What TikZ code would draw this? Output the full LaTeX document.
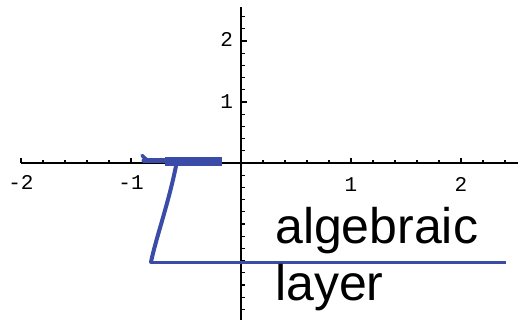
\documentclass[tikz,border=0pt]{standalone}
\usepackage{fontspec}
\setmainfont{Liberation Sans}
\newfontfamily\ticksfont{Liberation Mono}
\definecolor{curve}{HTML}{3A4BA8}

\begin{document}
\begin{tikzpicture}[x=1pt,y=-1pt,
axis/.style={black,line width=1.5pt},tick/.style={black,line width=1.1pt},
ticklabel/.style={font=\ticksfont\fontsize{21}{21}\selectfont,inner sep=0pt},
curveline/.style={color=curve,line width=3.2pt,line cap=round,line join=round},
layerlabel/.style={font=\fontsize{50}{50}\selectfont,anchor=base west,inner sep=0pt}]
\useasboundingbox (0,0) rectangle (518,320);
\coordinate (origin) at (241,163);
% axes in data units
\begin{scope}[shift={(origin)},x=110pt,y=61pt]
\draw[axis] (-2,0) -- (2.52,0);
\draw[axis] (0,-2.6) -- (0,2.55);
\foreach \x in {-2,-1.8,...,2.45} \draw[tick] (\x,0) -- ++(0,3pt);
\foreach \x in {-2,-1,1,2} \draw[tick] (\x,0) -- ++(0,5pt);
\foreach \y in {-2.6,-2.4,...,2.45} \draw[tick] (0,\y) -- ++(4pt,0);
\foreach \y in {1,2} \draw[tick] (0,\y) -- ++(6pt,0);
\node[ticklabel] (xm2) at (-2,-0.32) {-2};
\node[ticklabel] (xm1) at (-1,-0.32) {-1};
\node[ticklabel] (xp1) at (1,-0.35) {1};
\node[ticklabel] (xp2) at (2,-0.35) {2};
\node[ticklabel] (yp1) at (-0.13,1) {1};
\node[ticklabel] (yp2) at (-0.13,2.02) {2};
\end{scope}
% the curve
\draw[curveline,line width=8.5pt,line cap=butt] (165,161.5) -- (222,161.5);
\draw[curveline,line width=5pt] (144,161) -- (166,161);
\draw[curveline,line width=3.5pt] (142,155.5) -- (147,160);
\draw[curveline,line width=4pt] (176,166) .. controls (168,205) and (156,238) .. (151,262);
\draw[curveline,line width=3.3pt,line cap=butt] (151,262.5) -- (506,262.5);
\node[layerlabel] (alg) at (275,243) {algebraic};
\node[layerlabel] (lay) at (275,300) {layer};
\end{tikzpicture}
\end{document}
